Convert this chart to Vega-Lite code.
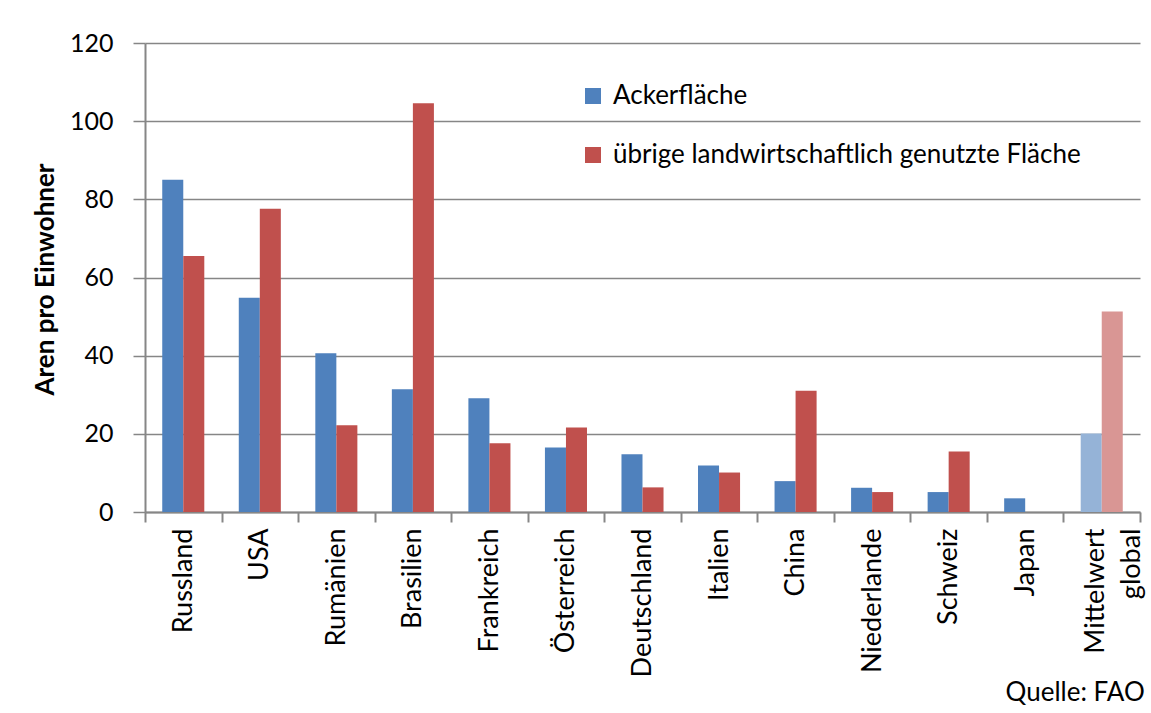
{
  "$schema": "https://vega.github.io/schema/vega-lite/v6.json",
  "width": 995,
  "height": 469,
  "autosize": "none",
  "padding": {"left": 145, "top": 43, "right": 11, "bottom": 201},
  "background": "white",
  "config": {"view": {"stroke": null}, "font": "Lato"},
  "title": {"text": "Quelle: FAO", "orient": "bottom", "anchor": "end", "fontSize": 26, "fontWeight": "normal", "font": "Lato", "offset": 3, "color": "black"},
  "data": {
    "values": [
      {"country": "Russland", "series": "Ackerfläche", "kind": "Ackerfläche", "value": 85},
      {"country": "Russland", "series": "übrige", "kind": "übrige landwirtschaftlich genutzte Fläche", "value": 65.5},
      {"country": "USA", "series": "Ackerfläche", "kind": "Ackerfläche", "value": 54.8},
      {"country": "USA", "series": "übrige", "kind": "übrige landwirtschaftlich genutzte Fläche", "value": 77.6},
      {"country": "Rumänien", "series": "Ackerfläche", "kind": "Ackerfläche", "value": 40.6},
      {"country": "Rumänien", "series": "übrige", "kind": "übrige landwirtschaftlich genutzte Fläche", "value": 22.2},
      {"country": "Brasilien", "series": "Ackerfläche", "kind": "Ackerfläche", "value": 31.4},
      {"country": "Brasilien", "series": "übrige", "kind": "übrige landwirtschaftlich genutzte Fläche", "value": 104.6},
      {"country": "Frankreich", "series": "Ackerfläche", "kind": "Ackerfläche", "value": 29.1},
      {"country": "Frankreich", "series": "übrige", "kind": "übrige landwirtschaftlich genutzte Fläche", "value": 17.6},
      {"country": "Österreich", "series": "Ackerfläche", "kind": "Ackerfläche", "value": 16.5},
      {"country": "Österreich", "series": "übrige", "kind": "übrige landwirtschaftlich genutzte Fläche", "value": 21.6},
      {"country": "Deutschland", "series": "Ackerfläche", "kind": "Ackerfläche", "value": 14.8},
      {"country": "Deutschland", "series": "übrige", "kind": "übrige landwirtschaftlich genutzte Fläche", "value": 6.3},
      {"country": "Italien", "series": "Ackerfläche", "kind": "Ackerfläche", "value": 11.9},
      {"country": "Italien", "series": "übrige", "kind": "übrige landwirtschaftlich genutzte Fläche", "value": 10.1},
      {"country": "China", "series": "Ackerfläche", "kind": "Ackerfläche", "value": 7.9},
      {"country": "China", "series": "übrige", "kind": "übrige landwirtschaftlich genutzte Fläche", "value": 31},
      {"country": "Niederlande", "series": "Ackerfläche", "kind": "Ackerfläche", "value": 6.2},
      {"country": "Niederlande", "series": "übrige", "kind": "übrige landwirtschaftlich genutzte Fläche", "value": 5.1},
      {"country": "Schweiz", "series": "Ackerfläche", "kind": "Ackerfläche", "value": 5.1},
      {"country": "Schweiz", "series": "übrige", "kind": "übrige landwirtschaftlich genutzte Fläche", "value": 15.5},
      {"country": "Japan", "series": "Ackerfläche", "kind": "Ackerfläche", "value": 3.5},
      {"country": "Japan", "series": "übrige", "kind": "übrige landwirtschaftlich genutzte Fläche", "value": 0},
      {"country": "Mittelwert global", "series": "Ackerfläche", "kind": "Ackerfläche (global)", "value": 20.1},
      {"country": "Mittelwert global", "series": "übrige", "kind": "übrige (global)", "value": 51.3}
    ]
  },
  "mark": {"type": "bar"},
  "encoding": {
    "x": {
      "field": "country",
      "type": "nominal",
      "sort": ["Russland", "USA", "Rumänien", "Brasilien", "Frankreich", "Österreich", "Deutschland", "Italien", "China", "Niederlande", "Schweiz", "Japan", "Mittelwert global"],
      "scale": {"paddingInner": 0, "paddingOuter": 0},
      "axis": {
        "title": null,
        "domainColor": "#868686",
        "domainWidth": 2,
        "tickBand": "extent",
        "tickSize": 10,
        "tickColor": "#868686",
        "tickWidth": 2,
        "labelAngle": -90,
        "labelAlign": "right",
        "labelBaseline": "middle",
        "labelFontSize": 27,
        "labelColor": "black",
        "labelPadding": 6,
        "labelLineHeight": 36,
        "labelOffset": {"condition": {"test": "datum.label == 'Mittelwert global'", "value": -6}, "value": 0},
        "labelExpr": "datum.label == 'Mittelwert global' ? ['Mittelwert', 'global'] : datum.label"
      }
    },
    "xOffset": {"field": "series", "type": "nominal", "sort": ["Ackerfläche", "übrige"], "scale": {"paddingInner": 0, "paddingOuter": 0.82}},
    "y": {
      "field": "value",
      "type": "quantitative",
      "scale": {"domain": [0, 120]},
      "axis": {
        "values": [0, 20, 40, 60, 80, 100, 120],
        "grid": true,
        "gridColor": "#868686",
        "gridWidth": 1.5,
        "domainColor": "#868686",
        "domainWidth": 2,
        "tickColor": "#868686",
        "tickWidth": 1.5,
        "tickSize": 12,
        "labelFontSize": 25,
        "labelColor": "black",
        "labelPadding": 20,
        "title": "Aren pro Einwohner",
        "titleFontSize": 26,
        "titleFontWeight": "bold",
        "titleColor": "black",
        "titleX": -100,
        "titleY": 236,
        "titleAngle": -90,
        "titleAlign": "center",
        "titleBaseline": "middle"
      }
    },
    "color": {
      "field": "kind",
      "type": "nominal",
      "scale": {
        "domain": ["Ackerfläche", "übrige landwirtschaftlich genutzte Fläche", "Ackerfläche (global)", "übrige (global)"],
        "range": ["#4F81BD", "#C0504D", "#95B3D7", "#D99694"]
      },
      "legend": {
        "values": ["Ackerfläche", "übrige landwirtschaftlich genutzte Fläche"],
        "orient": "none",
        "legendX": 435,
        "legendY": 40,
        "direction": "vertical",
        "title": null,
        "symbolType": "square",
        "symbolSize": 256,
        "symbolStrokeWidth": 0,
        "labelFontSize": 26,
        "labelColor": "black",
        "labelOffset": 7,
        "labelLimit": 700,
        "rowPadding": 33
      }
    }
  }
}
